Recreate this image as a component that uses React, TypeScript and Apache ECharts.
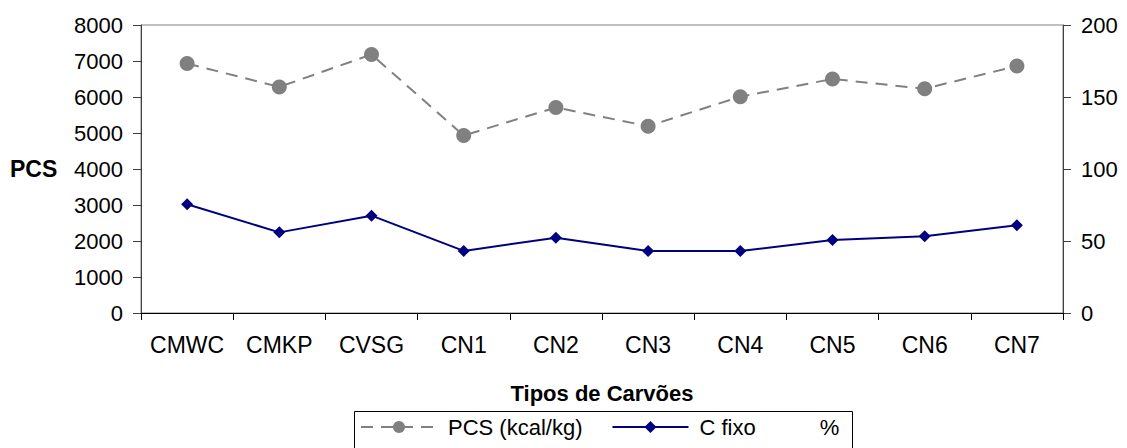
import React, { useEffect, useRef } from "react";
import * as echarts from "echarts";

const categories = ["CMWC", "CMKP", "CVSG", "CN1", "CN2", "CN3", "CN4", "CN5", "CN6", "CN7"];
const pcsValues = [6930, 6280, 7180, 4930, 5710, 5190, 6010, 6500, 6230, 6860];
const cFixoValues = [75.5, 56, 67.6, 43.1, 52.3, 43, 43, 50.7, 53.3, 61];
const pcsName = "PCS (kcal/kg)";
const cFixoName = "C fixo %";
const xTitle = "Tipos de Carvões";
const yTitle = "PCS";

const FONT = "'Liberation Sans', Arial, sans-serif";

export default function App() {
  const ref = useRef<HTMLDivElement>(null);
  useEffect(() => {
    document.body.style.margin = "0";
    if (!ref.current) return;
    const chart = echarts.init(ref.current, undefined, { renderer: "svg" });
    chart.setOption({
      animation: false,
      backgroundColor: "#ffffff",
      textStyle: { fontFamily: FONT },
      grid: {
        left: 141,
        right: 64,
        top: 25,
        bottom: 135,
        show: true,
        borderColor: "#808080",
        borderWidth: 1,
        containLabel: false,
      },
      xAxis: {
        type: "category",
        data: categories,
        boundaryGap: true,
        name: xTitle,
        nameLocation: "middle",
        nameGap: 69,
        nameTextStyle: { fontFamily: FONT, fontSize: 22, fontWeight: "bold", color: "#000" },
        axisLine: { show: true, lineStyle: { color: "#000", width: 1 } },
        axisTick: { show: true, length: 7, alignWithLabel: false, interval: 0, lineStyle: { color: "#000" } },
        axisLabel: { fontFamily: FONT, fontSize: 23, color: "#000", margin: 20, interval: 0 },
        splitLine: { show: false },
      },
      yAxis: [
        {
          type: "value",
          min: 0,
          max: 8000,
          interval: 1000,
          position: "left",
          axisLine: { show: true, lineStyle: { color: "#404040", width: 1 } },
          axisTick: { show: true, length: 8, lineStyle: { color: "#404040" } },
          axisLabel: {
            fontFamily: FONT,
            fontSize: 22,
            color: "#000",
            margin: 18,
            formatter: (v: number) => String(v),
          },
          splitLine: { show: false },
        },
        {
          type: "value",
          min: 0,
          max: 200,
          interval: 50,
          position: "right",
          axisLine: { show: true, lineStyle: { color: "#404040", width: 1 } },
          axisTick: { show: true, length: 8, lineStyle: { color: "#404040" } },
          axisLabel: {
            fontFamily: FONT,
            fontSize: 22,
            color: "#000",
            margin: 18,
            formatter: (v: number) => String(v),
          },
          splitLine: { show: false },
        },
      ],
      legend: {
        show: true,
        left: 360,
        top: 416,
        orient: "horizontal",
        itemWidth: 76,
        itemHeight: 15,
        itemGap: 29,
        padding: 0,
        data: [pcsName, cFixoName],
        formatter: (name: string) => (name === cFixoName ? "{a|C fixo}{b|%}" : "{p|" + name + "}"),
        textStyle: {
          fontFamily: FONT,
          fontSize: 22,
          color: "#000",
          rich: {
            p: { fontFamily: FONT, fontSize: 22, color: "#000", padding: [0, 0, 0, 6] },
            a: { fontFamily: FONT, fontSize: 22, color: "#000", padding: [0, 0, 0, 6] },
            b: { fontFamily: FONT, fontSize: 22, color: "#000", padding: [0, 0, 0, 64] },
          },
        },
      },
      graphic: [
        {
          type: "rect",
          left: 352,
          top: 409,
          shape: { width: 498, height: 37 },
          style: { fill: "none", stroke: "#000", lineWidth: 1 },
          silent: true,
        },
        {
          type: "text",
          left: 10,
          top: 157,
          style: { text: yTitle, fontFamily: FONT, fontSize: 23, fontWeight: "bold", fill: "#000" },
        },
      ],
      series: [
        {
          name: pcsName,
          type: "line",
          yAxisIndex: 0,
          data: pcsValues,
          symbol: "circle",
          symbolSize: 15,
          itemStyle: { color: "#808080" },
          lineStyle: { color: "#808080", width: 2, type: [12, 8] },
        },
        {
          name: cFixoName,
          type: "line",
          yAxisIndex: 1,
          data: cFixoValues,
          symbol: "diamond",
          symbolSize: 12,
          itemStyle: { color: "#000080" },
          lineStyle: { color: "#000080", width: 2, type: "solid" },
        },
      ],
    });
    return () => chart.dispose();
  }, []);
  return (
    <div
      ref={ref}
      style={{ position: "absolute", left: 0, top: 0, width: 1127, height: 448 }}
    />
  );
}
